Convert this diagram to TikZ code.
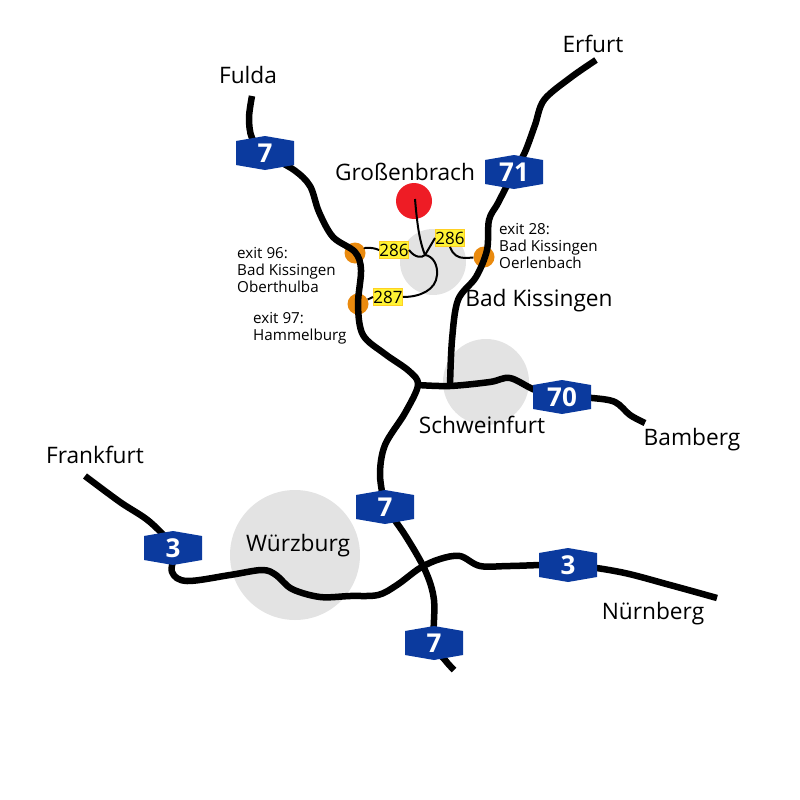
\documentclass[tikz,border=0pt]{standalone}
\usepackage{fontspec}
\setmainfont{Open Sans}
\usepackage{xcolor}
\definecolor{shieldblue}{HTML}{0B3A9E}
\definecolor{cityfill}{HTML}{E3E3E3}
\definecolor{exitorange}{HTML}{EA8A0E}
\definecolor{signyellow}{HTML}{FFF334}
\definecolor{townred}{HTML}{EE1C25}
\tikzset{
	road/.style={line width=6.5pt,line join=round},
	link/.style={line width=2pt,line join=round},
	city/.style={circle,fill=cityfill,inner sep=0pt},
	exitdot/.style={circle,fill=exitorange,minimum size=21pt,inner sep=0pt},
	shieldnum/.style={text=white,font=\fontsize{26}{26}\selectfont\bfseries,inner sep=0pt},
	signbox/.style={fill=signyellow,draw=signyellow!70!orange,line width=0.8pt,font=\fontsize{17}{17}\selectfont,inner sep=0pt,minimum width=29pt,minimum height=17pt},
	place/.style={font=\fontsize{22.7}{22.7}\selectfont,inner sep=0pt},
	exitnote/.style={font=\fontsize{15.2}{17}\selectfont,align=left,inner sep=0pt,anchor=north west}
}
\newcommand{\prshield}[3]{\fill[shieldblue] (#2) ++(-29,-12) -- ++(29,-5) -- ++(29,5) -- ++(0,24) -- ++(-29,5) -- ++(-29,-5) -- cycle; \node[shieldnum] (#1) at (#2) {#3};}
\newcommand{\prroad}[1]{\draw[road] plot[smooth,tension=0.55] coordinates {#1};}

\begin{document}
\begin{tikzpicture}[x=1pt,y=-1pt]
	\useasboundingbox (0,0) rectangle (800,800);

	\node[city,minimum size=66pt] (kissingen) at (433,262) {};
	\node[city,minimum size=86pt] (schweinfurt) at (486,382) {};
	\node[city,minimum size=130pt] (wuerzburg) at (295,555) {};

	\node[exitdot] (exitninesix) at (355,253) {};
	\node[exitdot] (exitnineseven) at (358,304) {};
	\node[exitdot] (exittwoeight) at (484,257) {};

	\coordinate (fuldaend) at (252,96);
	\coordinate (erfurtend) at (596,60);
	\coordinate (bambergend) at (645,423);
	\coordinate (frankfurtend) at (85,476);
	\coordinate (nuernbergend) at (717,598);
	\coordinate (southend) at (454,670);
	\coordinate (cross) at (418,385);
	\coordinate (s7a) at (265,153);
	\coordinate (s71) at (514,172);
	\coordinate (s70) at (562,397);
	\coordinate (s7b) at (385,507);
	\coordinate (s7c) at (434,643);
	\coordinate (s3a) at (173,548);
	\coordinate (s3b) at (568,565);

	% motorways
	\prroad{(fuldaend) (249,118) (252,138) (s7a) (294,170) (310,186) (319,212) (333,237) (355,252) (361,270) (358,305) (363,335) (385,354) (409,371) (cross) (405,413) (385,445) (380,475) (s7b)}
	\prroad{(s7b) (405,535) (425,570) (434,600) (s7c) (445,660) (southend)}
	\prroad{(erfurtend) (570,78) (544,100) (535,125) (525,152) (s71) (498,203) (489,220) (487,250) (476,277) (458,300) (452,340) (450,386)}
	\prroad{(cross) (450,386) (490,382) (510,378) (535,390) (s70) (592,398) (615,402) (630,415) (bambergend)}
	\prroad{(frankfurtend) (120,502) (150,522) (s3a) (172,572) (187,581) (230,575) (262,570) (276,575) (292,589) (320,597) (350,596) (378,595) (397,585) (420,568) (440,559) (460,556) (480,566) (510,566) (s3b) (620,572) (670,585) (nuernbergend)}

	\node[circle,fill=townred,minimum size=36pt,inner sep=0pt] (grossenbrach) at (414,201) {};
	\coordinate (fork) at (425,255);
	\coordinate (grossenstart) at (415,199);

	\node[signbox] (signleft) at (394,250) {286};
	\node[signbox] (signright) at (450,238) {286};
	\node[signbox] (signlow) at (388,297) {287};

	% feeder roads
	\draw[link] (grossenstart) .. controls (417,222) and (419,240) .. (fork);
	\draw[link] (fork) -- (signright.west);
	\draw[link] (signleft.east) .. controls (415,258) and (422,258) .. (fork);
	\draw[link] (fork) .. controls (433,256) and (438,265) .. (437,275) .. controls (436,290) and (420,297) .. (signlow.east);
	\draw[link] (signleft.west) .. controls (370,246) and (362,249) .. (exitninesix);
	\draw[link] (signlow.west) -- (exitnineseven);
	\draw[link] (signright.south) .. controls (453,255) and (458,258) .. (465,258) -- (exittwoeight);

	\prshield{shieldsevena}{s7a}{7}
	\prshield{shieldseventyone}{s71}{71}
	\prshield{shieldseventy}{s70}{70}
	\prshield{shieldsevenb}{s7b}{7}
	\prshield{shieldsevenc}{s7c}{7}
	\prshield{shieldthreea}{s3a}{3}
	\prshield{shieldthreeb}{s3b}{3}

	\node[place] (fulda) at (248,75) {Fulda};
	\node[place] (erfurt) at (593,44) {Erfurt};
	\node[place] (grossenlabel) at (405,172) {Großenbrach};
	\node[place] (kissingenlabel) at (539,301) {Bad Kissingen};
	\node[place] (schweinfurtlabel) at (482,425) {Schweinfurt};
	\node[place] (bamberg) at (692,440) {Bamberg};
	\node[place] (frankfurt) at (95,455) {Frankfurt};
	\node[place] (wuerzburglabel) at (298,546) {Würzburg};
	\node[place] (nuernberg) at (653,614) {Nürnberg};

	\node[exitnote] (notenine) at (237,247) {exit 96:\\Bad Kissingen\\Oberthulba};
	\node[exitnote] (noteseven) at (253,312) {exit 97:\\Hammelburg};
	\node[exitnote] (notetwo) at (499,223) {exit 28:\\Bad Kissingen\\Oerlenbach};
\end{tikzpicture}
\end{document}
